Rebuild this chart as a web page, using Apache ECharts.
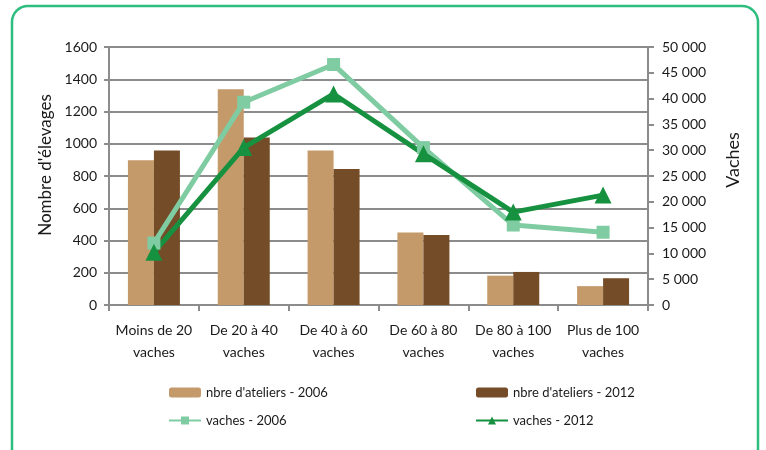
<!DOCTYPE html>
<html>
<head>
<meta charset="utf-8">
<script src="https://cdn.jsdelivr.net/npm/echarts@6/dist/echarts.min.js"></script>
<style>
  html, body { margin: 0; padding: 0; background: #fff; }
  #main { width: 766px; height: 450px; }
</style>
</head>
<body>
<div id="main"></div>
<script>
var categories = ['Moins de 20\nvaches', 'De 20 à 40\nvaches', 'De 40 à 60\nvaches',
    'De 60 à 80\nvaches', 'De 80 à 100\nvaches', 'Plus de 100\nvaches'];
var ateliers2006 = [897, 1338, 958, 449, 182, 117];
var ateliers2012 = [958, 1039, 843, 434, 205, 166];
var vaches2006 = [12000, 39300, 46600, 30500, 15500, 14100];
var vaches2012 = [10200, 30500, 40900, 29300, 18000, 21300];

var font = 'Lato';
var gridColor = '#8c8c8c';
var textColor = '#1a1a1a';

function thousands(v) {
    if (v < 1000) return String(v);
    var k = Math.floor(v / 1000);
    var r = String(v % 1000);
    while (r.length < 3) r = '0' + r;
    return k + ' ' + r;
}

var myChart = echarts.init(document.getElementById('main'));

var option = {
    animation: false,
    textStyle: { fontFamily: font, color: textColor },
    grid: { left: 109, right: 118, top: 47, bottom: 145 },
    graphic: [{
        type: 'rect',
        shape: { x: 12, y: 6, width: 746, height: 470, r: 16 },
        style: { fill: 'none', stroke: '#2dbd7e', lineWidth: 2.5 }
    }],
    legend: [{
        left: 163, top: 381, orient: 'vertical', itemGap: 15,
        itemWidth: 32, itemHeight: 10,
        textStyle: { fontFamily: font, fontSize: 13, color: textColor },
        data: ['nbre d\'ateliers - 2006', 'vaches - 2006']
    }, {
        left: 470, top: 381, orient: 'vertical', itemGap: 15,
        itemWidth: 32, itemHeight: 10,
        textStyle: { fontFamily: font, fontSize: 13, color: textColor },
        data: ['nbre d\'ateliers - 2012', 'vaches - 2012']
    }],
    xAxis: {
        type: 'category',
        data: categories,
        axisLine: { lineStyle: { color: gridColor, width: 2 } },
        axisTick: { show: true, length: 6, lineStyle: { color: gridColor, width: 2 } },
        axisLabel: { fontFamily: font, fontSize: 14, color: textColor, lineHeight: 22, margin: 14, interval: 0 }
    },
    yAxis: [{
        type: 'value',
        min: 0, max: 1600, interval: 200,
        name: 'Nombre d\'élevages',
        nameLocation: 'middle',
        nameRotate: 90,
        nameGap: 52,
        nameTextStyle: { fontFamily: font, fontSize: 17, color: textColor, padding: [0, 0, 0, 22] },
        axisLine: { show: true, lineStyle: { color: gridColor, width: 2 } },
        axisTick: { show: true, length: 5, lineStyle: { color: gridColor, width: 2 } },
        axisLabel: { fontFamily: font, fontSize: 14, color: textColor, margin: 12, formatter: function (v) { return String(v); } },
        splitLine: { lineStyle: { color: gridColor, width: 2 } }
    }, {
        type: 'value',
        min: 0, max: 50000, interval: 5000,
        name: 'Vaches',
        nameLocation: 'middle',
        nameRotate: 90,
        nameGap: 76,
        nameTextStyle: { fontFamily: font, fontSize: 18, color: textColor, padding: [0, 0, 0, 32] },
        axisLine: { show: true, lineStyle: { color: gridColor, width: 2 } },
        axisTick: { show: true, length: 6, lineStyle: { color: gridColor, width: 2 } },
        axisLabel: { fontFamily: font, fontSize: 14, color: textColor, margin: 14, formatter: thousands },
        splitLine: { show: false }
    }],
    series: [{
        name: 'nbre d\'ateliers - 2006',
        type: 'bar',
        data: ateliers2006,
        barWidth: 26,
        barGap: '0%',
        itemStyle: { color: '#c49a6a' }
    }, {
        name: 'nbre d\'ateliers - 2012',
        type: 'bar',
        data: ateliers2012,
        barWidth: 26,
        itemStyle: { color: '#754c28' }
    }, {
        name: 'vaches - 2006',
        type: 'line',
        yAxisIndex: 1,
        data: vaches2006,
        symbol: 'rect',
        symbolSize: 13,
        lineStyle: { color: '#80cca2', width: 5 },
        itemStyle: { color: '#80cca2' }
    }, {
        name: 'vaches - 2012',
        type: 'line',
        yAxisIndex: 1,
        data: vaches2012,
        symbol: 'triangle',
        symbolSize: 17,
        lineStyle: { color: '#16913f', width: 5 },
        itemStyle: { color: '#16913f' }
    }]
};

myChart.setOption(option);
</script>
</body>
</html>
